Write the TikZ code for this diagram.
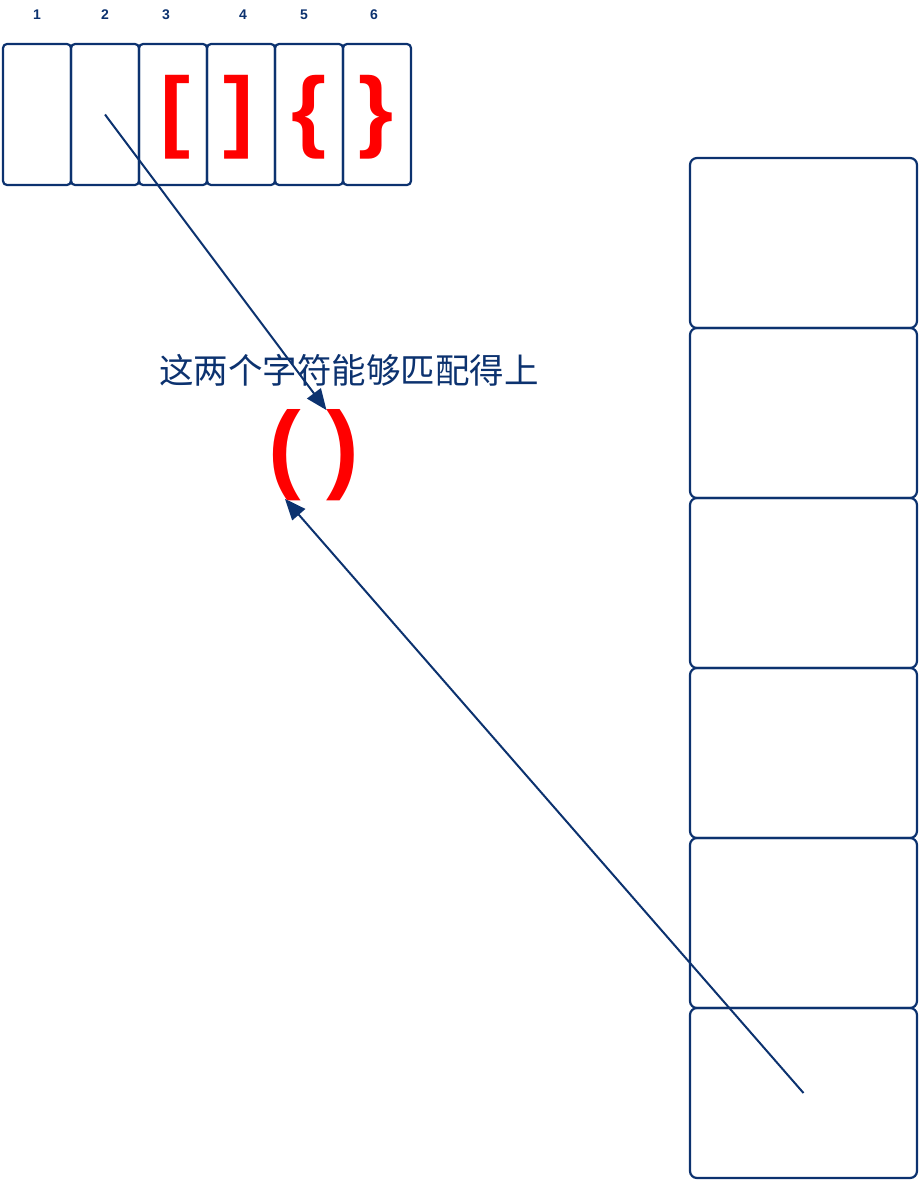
\documentclass[tikz,border=0pt]{standalone}
\usepackage{fontspec}
\setmainfont{Liberation Sans}
\newfontfamily\cjk{Noto Sans CJK SC}
\usepackage{tikz}
\usetikzlibrary{arrows.meta,calc,positioning}
\definecolor{ink}{RGB}{12,50,111}
\definecolor{mark}{RGB}{255,0,0}
\tikzstyle{slot}=[
  draw=ink,
  line width=2.2pt,
  inner sep=0pt,
  outer sep=0pt,
  minimum width=68pt,
  minimum height=141pt,
  rectangle,
  rounded corners=4pt,
]
\tikzstyle{cell}=[
  slot,
  minimum width=227pt,
  minimum height=170pt,
  rounded corners=7pt,
]
\tikzstyle{index}=[
  color=ink,
  font={\fontsize{14}{14}\selectfont\bfseries},
]
\tikzstyle{glyph}=[
  color=mark,
  inner sep=0pt,
  font={\fontsize{90}{90}\selectfont\bfseries},
]
\tikzstyle{pointer}=[
  draw=ink,
  line width=2pt,
  -{Triangle[length=21pt,width=17pt]},
]
\tikzstyle{caption}=[
  color=ink,
  font={\cjk\fontsize{34.5}{34.5}\selectfont},
]
\tikzset{
  x=1pt,
  y=-1pt,
}
\begin{document}
\begin{tikzpicture}
     \useasboundingbox (0,0) rectangle (920,1180);
     %% row of slots
     \node (slot1) [slot] at (37,114.5) {};
     \foreach \i [remember=\i as \j (initially 1)] in {2,...,6}
       \node (slot\i) [slot, right=0pt of slot\j] {};
     \node [index] at (37,15) {1};
     \node [index] at (105,15) {2};
     \node [index] at (166,15) {3};
     \node [index] at (243,15) {4};
     \node [index] at (304,15) {5};
     \node [index] at (374,15) {6};
     \node (lbrack) [glyph] at (175,117) {[};
     \node (rbrack) [glyph] at (238,117) {]};
     \node (lbrace) [glyph] at (309,117) {\{};
     \node (rbrace) [glyph] at (376,117) {\}};
     %% stack
     \node (stk1) [cell] at (803.5,243) {};
     \foreach \i [remember=\i as \j (initially 1)] in {2,...,6}
       \node (stk\i) [cell, below=0pt of stk\j] {};
     %%
     \node (note) [caption] at (349,370) {这两个字符能够匹配得上};
     \node (lpar) [glyph, font={\fontsize{98}{98}\selectfont\bfseries}] at (285,455) {(};
     \node (rpar) [glyph, font={\fontsize{98}{98}\selectfont\bfseries}] at (343,455) {)};
     \coordinate (A) at ($(rpar.north west)+(0,1)$);
     \coordinate (B) at ($(lpar.south)+(0,-2)$);
     \draw [pointer] (slot2.center) -- (A);
     \draw [pointer] (stk6.center) -- (B);
   \end{tikzpicture}
\end{document}
